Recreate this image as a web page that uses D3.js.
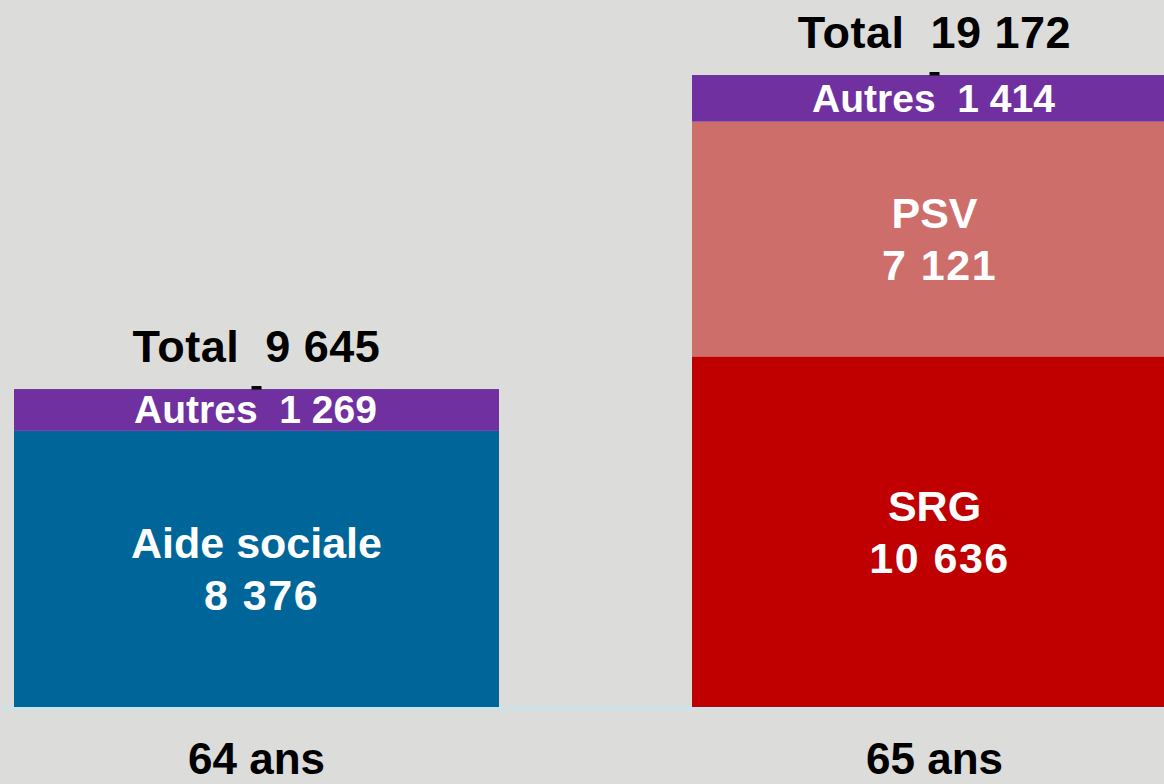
<!DOCTYPE html>
<html>
<head>
<meta charset="utf-8">
<script src="https://cdn.jsdelivr.net/npm/d3@7"></script>
<style>
  html, body { margin: 0; padding: 0; background: #dcdcda; }
  svg { display: block; }
  text { font-family: "Liberation Sans", Arial, sans-serif; font-weight: bold; }
</style>
</head>
<body>
<svg id="chart" width="1164" height="784"></svg>
<script>
// Data
const categories = ["64 ans", "65 ans"];
const seriesNames = ["Aide sociale", "SRG", "PSV", "Autres"];
const aideSociale = [8376, 0];
const srg = [0, 10636];
const psv = [0, 7121];
const autres = [1269, 1414];
const totals = [9645, 19172];
const seriesColors = ["#006699", "#c00000", "#cd6e6b", "#7030a0"];
const segmentLabels = ["Aide sociale", "SRG", "PSV", "Autres"];

const W = 1164, H = 784;
const svg = d3.select("#chart");
svg.append("rect").attr("width", W).attr("height", H).attr("fill", "#dcdcda");

const baseY = 707;
const x = d3.scaleBand().domain(categories).range([14, 1177]).paddingInner(193 / 678).paddingOuter(0);
const y = d3.scaleLinear().domain([0, 19172]).range([baseY, 75]);

const seriesValues = [aideSociale, srg, psv, autres];
const rows = categories.map((c, i) => {
  const r = { cat: c };
  seriesNames.forEach((s, k) => r[s] = seriesValues[k][i]);
  return r;
});
const stacked = d3.stack().keys(seriesNames)(rows);

const fmt = v => d3.format(",")(v).replace(/,/g, " ");

stacked.forEach((layer, k) => {
  svg.append("g").selectAll("rect")
    .data(layer.filter(d => d[1] - d[0] > 0))
    .join("rect")
    .attr("x", d => x(d.data.cat))
    .attr("width", x.bandwidth())
    .attr("y", d => y(d[1]))
    .attr("height", d => y(d[0]) - y(d[1]))
    .attr("fill", seriesColors[k]);
});

// axis baseline + category labels
const xAxis = d3.axisBottom(x).tickSize(0).tickPadding(0);
const axisG = svg.append("g").attr("transform", `translate(0,${baseY + 1})`).call(xAxis);
axisG.select(".domain").attr("d", `M0,0H${W}`).attr("stroke", "#bfe8f5").attr("stroke-width", 2);
axisG.selectAll(".tick text")
  .attr("y", 774 - baseY - 1)
  .attr("dy", 0)
  .attr("fill", "#000")
  .attr("font-size", 44)
  .style("font-family", '"Liberation Sans", Arial, sans-serif')
  .style("font-weight", "bold");

// segment labels
stacked.forEach((layer, k) => {
  layer.filter(d => d[1] - d[0] > 0).forEach(d => {
    const cx = x(d.data.cat) + x.bandwidth() / 2;
    const v = d[1] - d[0];
    const cy = (y(d[0]) + y(d[1])) / 2;
    if (seriesNames[k] === "Autres") {
      svg.append("text")
        .attr("x", cx - 1).attr("y", cy + 13.5)
        .attr("text-anchor", "middle")
        .attr("fill", "#fff").attr("font-size", 39)
        .attr("xml:space", "preserve")
        .text(segmentLabels[k] + "  " + fmt(v));
    } else {
      const t = svg.append("text")
        .attr("text-anchor", "middle")
        .attr("fill", "#fff").attr("font-size", 43);
      t.append("tspan").attr("x", cx).attr("y", cy - 11).text(segmentLabels[k]);
      t.append("tspan").attr("x", cx + 5).attr("y", cy + 41)
        .attr("letter-spacing", 1.5).text(fmt(v));
    }
  });
});

// totals
categories.forEach((c, i) => {
  const cx = x(c) + x.bandwidth() / 2;
  const top = y(totals[i]);
  svg.append("text")
    .attr("x", cx).attr("y", top - 27)
    .attr("text-anchor", "middle")
    .attr("fill", "#000").attr("font-size", 45)
    .attr("letter-spacing", 0.5)
    .attr("xml:space", "preserve")
    .text("Total  " + fmt(totals[i]));
  svg.append("rect")
    .attr("x", cx - 5).attr("y", top - 3)
    .attr("width", 10).attr("height", 3.5)
    .attr("fill", "#000");
});
</script>
</body>
</html>
